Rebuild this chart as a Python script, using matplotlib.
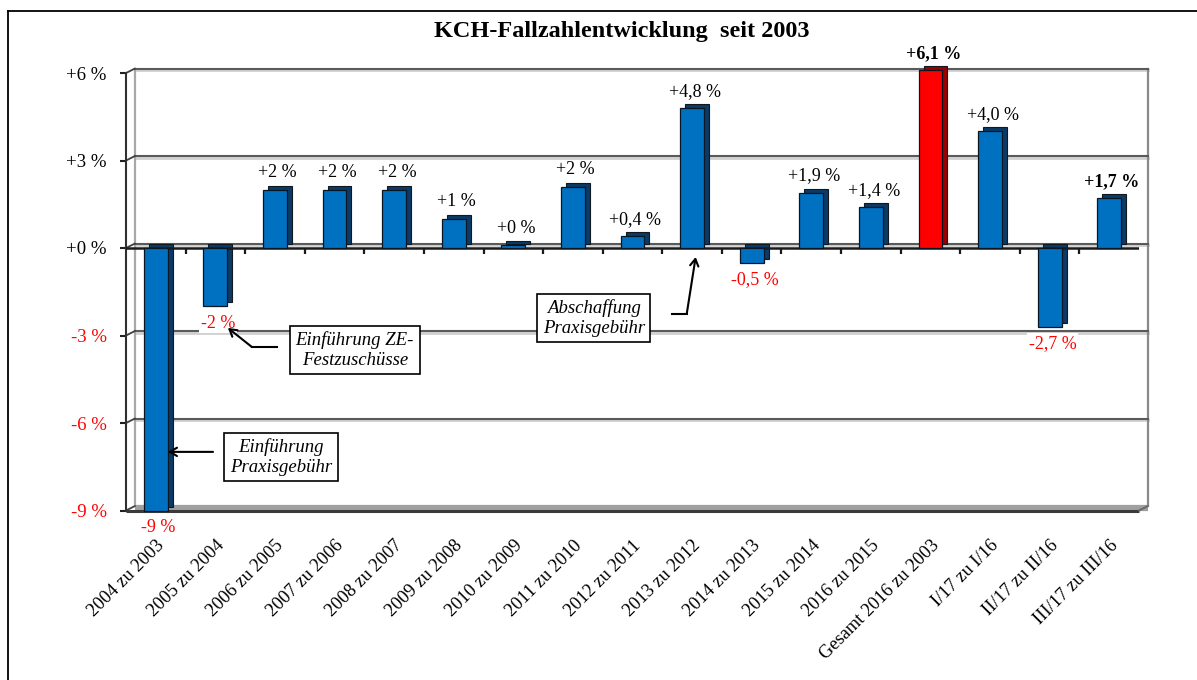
import matplotlib
matplotlib.use("Agg")
import matplotlib.pyplot as plt
import matplotlib.transforms as mtransforms
from matplotlib.patches import ConnectionPatch
from matplotlib.lines import Line2D
import numpy as np

# ---------------- data ----------------
categories = ["2004 zu 2003", "2005 zu 2004", "2006 zu 2005", "2007 zu 2006",
              "2008 zu 2007", "2009 zu 2008", "2010 zu 2009", "2011 zu 2010",
              "2012 zu 2011", "2013 zu 2012", "2014 zu 2013", "2015 zu 2014",
              "2016 zu 2015", "Gesamt 2016 zu 2003", "I/17 zu I/16",
              "II/17 zu II/16", "III/17 zu III/16"]
values = [-9.0, -2.0, 2.0, 2.0, 2.0, 1.0, 0.1, 2.1, 0.4, 4.8, -0.5, 1.9, 1.4,
          6.1, 4.0, -2.7, 1.7]
value_labels = ["-9 %", "-2 %", "+2 %", "+2 %", "+2 %", "+1 %", "+0 %", "+2 %",
                "+0,4 %", "+4,8 %", "-0,5 %", "+1,9 %", "+1,4 %", "+6,1 %",
                "+4,0 %", "-2,7 %", "+1,7 %"]
highlight = "Gesamt 2016 zu 2003"
bold_labels = ["Gesamt 2016 zu 2003", "III/17 zu III/16"]
yticks = [6, 3, 0, -3, -6, -9]
ytick_labels = ["+6 %", "+3 %", "+0 %", "-3 %", "-6 %", "-9 %"]
title = "KCH-Fallzahlentwicklung  seit 2003"

SERIF = "Liberation Serif"
plt.rcParams["font.family"] = [SERIF, "DejaVu Serif"]

W, H = 1197, 680
fig = plt.figure(figsize=(W / 100, H / 100), dpi=100)
fig.patch.set_facecolor("white")

ax = fig.add_axes([126 / W, 1 - 510.5 / H, (1139 - 126) / W, 437.5 / H])
n = len(categories)
xmin, xmax = -0.5, n - 0.5
ymin, ymax = min(yticks), max(yticks)
ax.set_xlim(xmin, xmax)
ax.set_ylim(ymin, ymax)
for s in ["top", "right", "bottom"]:
    ax.spines[s].set_visible(False)
ax.spines["left"].set_color("#303030")
ax.spines["left"].set_linewidth(1.5)

# transforms for the pseudo 3D look
back = ax.transData + mtransforms.ScaledTranslation(0.09, 0.045, fig.dpi_scale_trans)
back_shadow = ax.transData + mtransforms.ScaledTranslation(0.09, 0.03, fig.dpi_scale_trans)
depth = ax.transData + mtransforms.ScaledTranslation(0.05, 0.04, fig.dpi_scale_trans)

# back wall gridlines
for yv in yticks:
    if yv == ymin:
        continue
    ax.plot([xmin, xmax], [yv, yv], transform=back_shadow, color="#d0d0d0",
            lw=2.0, zorder=1, clip_on=False)
    ax.plot([xmin, xmax], [yv, yv], transform=back, color="#5a5a5a",
            lw=1.5, zorder=1.2, clip_on=False)
    cp = ConnectionPatch(xyA=(xmin, yv), coordsA=ax.transData,
                         xyB=(xmin, yv), coordsB=back, color="#404040", lw=1.3,
                         zorder=1.2)
    ax.add_artist(cp)

# back wall edges (left, right)
ax.plot([xmin, xmin], [ymin, ymax], transform=back, color="#a8a8a8", lw=1.6,
        zorder=1, clip_on=False)
ax.plot([xmax, xmax], [ymin, ymax], transform=back, color="#8a8a8a", lw=1.6,
        zorder=1, clip_on=False)

# floor
ax.plot([xmin, xmax], [ymin, ymin], transform=back_shadow, color="#a0a0a0",
        lw=4.5, zorder=1.1, clip_on=False, solid_capstyle="butt")
ax.plot([xmin, xmax], [ymin, ymin], color="#3a3a3a", lw=2.2, zorder=1.3,
        clip_on=False, solid_capstyle="butt")
ax.add_artist(ConnectionPatch(xyA=(xmax, ymin), coordsA=ax.transData,
                              xyB=(xmax, ymin), coordsB=back, color="#6a6a6a",
                              lw=1.5, zorder=1.3))
ax.add_artist(ConnectionPatch(xyA=(xmin, ymin), coordsA=ax.transData,
                              xyB=(xmin, ymin), coordsB=back, color="#404040",
                              lw=1.3, zorder=1.3))

# bars (side/top faces first, then front faces)
x = np.arange(n)
front_colors = ["#FF0000" if c == highlight else "#0070C0" for c in categories]
side_colors = ["#9A0000" if c == highlight else "#0B3A66" for c in categories]
ax.bar(x, values, width=0.40, color=side_colors, edgecolor="#101820",
       linewidth=0.8, transform=depth, zorder=3, clip_on=False)
ax.bar(x, values, width=0.40, color=front_colors, edgecolor="#0a1622",
       linewidth=0.9, zorder=4, clip_on=False)

# zero line and its tick marks
ax.plot([xmin, xmax], [0, 0], color="#1a1a1a", lw=1.8, zorder=3.5)
bounds = np.arange(n - 1) + 0.5
ax.plot(bounds, np.zeros_like(bounds), ls="none", marker=3, ms=4.5, mew=1.6,
        color="#1a1a1a", zorder=3.5, clip_on=False)

# data labels
for xi, v, lab, cat in zip(x, values, value_labels, categories):
    col = "#FF0000" if v < 0 else "black"
    fw = "bold" if cat in bold_labels else "normal"
    if v >= 0:
        ax.annotate(lab, xy=(xi, v), xytext=(2, 6), textcoords="offset points",
                    ha="center", va="bottom", fontsize=13, color=col,
                    fontweight=fw, zorder=5,
                    bbox=dict(boxstyle="square,pad=0.1", fc="white", ec="none"),
                    annotation_clip=False)
    else:
        ax.annotate(lab, xy=(xi, v), xytext=(2, -6), textcoords="offset points",
                    ha="center", va="top", fontsize=13, color=col,
                    fontweight=fw, zorder=5,
                    bbox=dict(boxstyle="square,pad=0.1", fc="white", ec="none"),
                    annotation_clip=False)

# axes ticks
ax.set_yticks(yticks)
ax.set_yticklabels(ytick_labels, fontsize=13.5)
for lab, yv in zip(ax.get_yticklabels(), yticks):
    lab.set_color("#FF0000" if yv < 0 else "black")
ax.tick_params(axis="y", direction="out", length=4, width=1.5,
               color="#202020", pad=10)
ax.set_xticks(x)
ax.set_xticklabels(categories, rotation=45, ha="right", va="top",
                   rotation_mode="anchor", fontsize=13.2)
ax.tick_params(axis="x", length=0, pad=19)

# annotations
box = dict(boxstyle="square,pad=0.3", fc="white", ec="black", lw=1.2)
arrow = dict(arrowstyle="->,head_length=0.5,head_width=0.3", color="black",
             lw=1.5, shrinkA=0, shrinkB=0)

ax.text(2.10, -7.17, "Einführung\nPraxisgebühr", ha="center", va="center",
        fontsize=13.5, style="italic", bbox=box, zorder=6, linespacing=1.2)
ax.annotate("", xy=(0.205, -6.99), xytext=(0.96, -6.99), arrowprops=arrow,
            zorder=6)

ax.text(3.34, -3.50, "Einführung ZE-\nFestzuschüsse", ha="center",
        va="center", fontsize=13.5, style="italic", bbox=box, zorder=6,
        linespacing=1.2)
ax.plot([2.03, 1.61], [-3.39, -3.39], color="black", lw=1.5, zorder=6)
ax.annotate("", xy=(1.21, -2.74), xytext=(1.61, -3.39), arrowprops=arrow,
            zorder=6)

ax.text(7.35, -2.40, "Abschaffung\nPraxisgebühr", ha="center", va="center",
        fontsize=13.5, style="italic", bbox=box, zorder=6, linespacing=1.2)
ax.plot([8.66, 8.91], [-2.26, -2.26], color="black", lw=1.5, zorder=6)
ax.annotate("", xy=(9.06, -0.31), xytext=(8.91, -2.26), arrowprops=arrow,
            zorder=6)

# title
fig.text(622 / W, 1 - 32 / H, title, ha="center", va="center", fontsize=17.5,
         fontweight="bold")

# outer frame lines
fig.add_artist(Line2D([8 / W, 1.0], [1 - 10.5 / H, 1 - 10.5 / H],
                      transform=fig.transFigure, color="black", lw=1.3))
fig.add_artist(Line2D([8 / W, 8 / W], [0.0, 1 - 10.5 / H],
                      transform=fig.transFigure, color="black", lw=1.3))

fig.savefig("out.png", dpi=100, facecolor="white")
